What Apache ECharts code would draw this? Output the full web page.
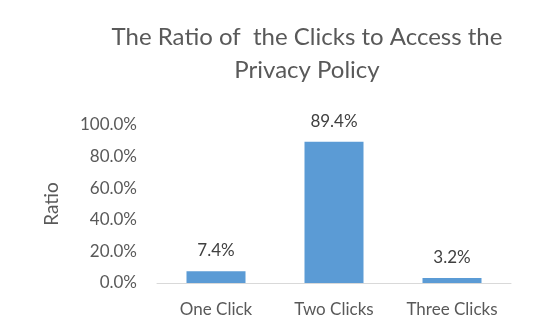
<!DOCTYPE html>
<html><head><meta charset="utf-8">
<script src="https://cdn.jsdelivr.net/npm/echarts@6/dist/echarts.min.js"></script>
<style>html,body{margin:0;padding:0;background:#fff}#c{width:538px;height:335px}</style>
</head><body><div id="c"></div>
<script>
const categories = ['One Click', 'Two Clicks', 'Three Clicks'];
const ratios = [7.4, 89.4, 3.2];
const yTicks = [0, 20, 40, 60, 80, 100];
const titleText = 'The Ratio of  the Clicks to Access the\nPrivacy Policy';
const yName = 'Ratio';

const font = 'Lato';
const chart = echarts.init(document.getElementById('c'));
chart.setOption({
  animation: false,
  title: {
    text: titleText, left: 302, top: 16, textAlign: 'center',
    textStyle: {fontFamily: font, fontSize: 24, fontWeight: 'normal', color: '#595959', lineHeight: 33}
  },
  grid: {left: 157, right: 27, top: 125, bottom: 52},
  xAxis: {
    type: 'category', data: categories,
    axisLine: {lineStyle: {color: '#d9d9d9', width: 1}},
    axisTick: {show: false},
    axisLabel: {interval: 0, fontFamily: font, fontSize: 17, color: '#595959', margin: 18}
  },
  yAxis: {
    type: 'value', min: yTicks[0], max: yTicks[yTicks.length-1], interval: yTicks[1]-yTicks[0],
    name: yName, nameLocation: 'middle', nameGap: 96, nameRotate: 90,
    nameTextStyle: {fontFamily: font, fontSize: 19, color: '#595959'},
    axisLine: {show: false}, axisTick: {show: false}, splitLine: {show: false},
    axisLabel: {fontFamily: font, fontSize: 17, color: '#595959', margin: 20,
      formatter: v => v.toFixed(1) + '%'}
  },
  series: [{
    type: 'bar', data: ratios, barCategoryGap: '50%',
    itemStyle: {color: '#5b9bd5'},
    label: {show: true, position: 'top', distance: 12, fontFamily: font, fontSize: 17, color: '#404040',
      formatter: p => p.value.toFixed(1) + '%'}
  }]
});
</script></body></html>
